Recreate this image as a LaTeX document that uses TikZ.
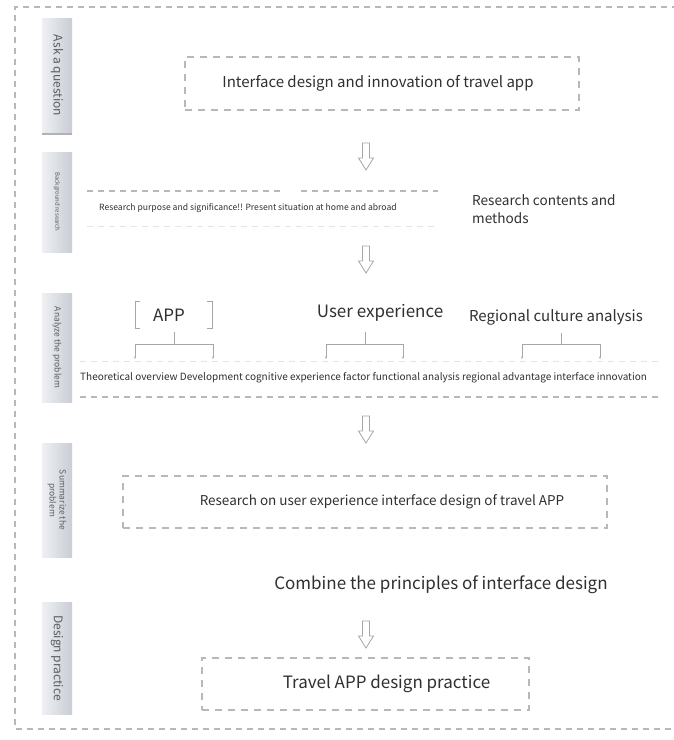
\documentclass[tikz,border=0pt]{standalone}
\usepackage{fontspec}
\setmainfont{Noto Sans CJK SC}
\usetikzlibrary{arrows.meta}
\definecolor{dashgray}{HTML}{B8B8B8}
\definecolor{faintgray}{HTML}{E4E4E4}
\definecolor{txt}{HTML}{303030}
\definecolor{bartxt}{HTML}{5A5C60}
\definecolor{barL}{HTML}{EEF0F3}
\definecolor{barR}{HTML}{C9CDD4}
\begin{document}
\begin{tikzpicture}[x=1pt,y=-1pt,
  frame/.style={draw=dashgray, line width=1.2pt, dash pattern=on 6pt off 5pt},
  dbox/.style={draw=dashgray, line width=1.6pt, dash pattern=on 7pt off 6pt, inner sep=0pt},
  bar/.style={left color=barL, right color=barR, draw=none, minimum width=30pt, inner sep=0pt},
  bartext/.style={rotate=-90, text=bartxt, align=center, inner sep=0pt},
  lbl/.style={text=txt, inner sep=0pt},
  tree/.style={draw=gray!70, line width=0.8pt},
  leaf/.style={-{Stealth[length=2.5pt,width=2pt]}},
  harrow/.pic={\draw[draw=gray!70, line width=0.8pt, fill=white]
      (-3.5,0) -- (3.5,0) -- (3.5,15) -- (7.5,15) -- (0,27) -- (-7.5,15) -- (-3.5,15) -- cycle;}
]
\useasboundingbox (0,0) rectangle (673,740);
\fill[white] (0,0) rectangle (673,740);

% outer frame (open on the right)
\draw[frame] (678,7) -- (15,7) -- (15,729) -- (678,729);

% side bars
\node[bar, minimum height=115pt] (b1) at (57,75.5) {};
\fill[gray!60] (b1.south west) rectangle ([yshift=-2pt]b1.south east);
\node[bartext, font=\fontsize{12}{14}\selectfont] at (b1.center) {Ask a question};
\node[bar, minimum height=100pt] (b2) at (57,202) {};
\node[bartext, font=\fontsize{6}{7}\selectfont] at (b2.center) {Background research};
\node[bar, minimum height=109pt] (b3) at (57,347.5) {};
\node[bartext, font=\fontsize{8.5}{10}\selectfont] at (b3.center) {Analyze the problem};
\node[bar, minimum height=114pt] (b4) at (57,500) {};
\node[bartext, font=\fontsize{8.5}{10}\selectfont] at (b4.center) {Summarize the\\problem};
\node[bar, minimum height=112pt] (b5) at (57,658) {};
\node[bartext, font=\fontsize{12}{14}\selectfont] at (b5.center) {Design practice};

% row 1
\node[dbox, minimum width=394pt, minimum height=53pt] (box1) at (382,83.5) {};
\node[lbl, font=\fontsize{15}{18}\selectfont] (t1) at ([xshift=-4pt]box1.center) {Interface design and innovation of travel app};
\pic at (366,143) {harrow};

% row 2
\draw[frame] (87,191) -- (281,191);
\draw[frame] (301,191) -- (438,191);
\draw[draw=faintgray, line width=1pt, dash pattern=on 6pt off 5pt] (87,226) -- (438,226);
\node[lbl, font=\fontsize{8.6}{10}\selectfont, anchor=west] (t2) at (99,208) {Research purpose and significance!! Present situation at home and abroad};
\node[lbl, font=\fontsize{13.6}{18.5}\selectfont, anchor=west, align=left] (t2b) at (472,209) {Research contents and\\methods};
\pic at (366,246) {harrow};

% row 3
\node[lbl, font=\fontsize{17}{20}\selectfont] (app) at (169,315) {APP};
\draw[tree, line width=1pt] (140,301) -- (135,301) -- (135,328) -- (140,328);
\draw[tree, line width=1pt] (207,301) -- (212,301) -- (212,328) -- (207,328);
\node[lbl, font=\fontsize{17}{20}\selectfont] (ue) at (380,313) {User experience};
\node[lbl, font=\fontsize{15}{18}\selectfont] (rca) at (556,317) {Regional culture analysis};

\coordinate (a0) at (174,332);
\coordinate (u0) at (365,332);
\coordinate (r0) at (561,333);
\foreach \c/\l/\r in {a0/135/213, u0/326/403, r0/522/600}{
  \draw[tree] (\c) -- ++(0,12) coordinate (\c m);
  \draw[tree] (\l,344) -- (\r,344);
  \draw[tree, leaf] (\l,344) -- (\l,359);
  \draw[tree, leaf] (\r,344) -- (\r,359);
}
\draw[draw=faintgray, line width=1pt, dash pattern=on 6pt off 5pt] (80,361) -- (660,361);
\node[lbl, font=\fontsize{10}{12}\selectfont, anchor=west] (t3) at (80,378) {Theoretical overview Development cognitive experience factor functional analysis regional advantage interface innovation};
\draw[frame] (80,397) -- (660,397);
\pic at (366,416) {harrow};

% row 4
\node[dbox, minimum width=484pt, minimum height=52pt] (box4) at (365,502) {};
\node[lbl, font=\fontsize{13.5}{16}\selectfont] (t4) at ([xshift=17pt]box4.center) {Research on user experience interface design of travel APP};
\node[lbl, font=\fontsize{17}{20}\selectfont] (t5) at (441,585) {Combine the principles of interface design};
\pic at (366,621) {harrow};

% row 5
\node[dbox, minimum width=327pt, minimum height=52pt] (box5) at (365.5,684) {};
\node[lbl, font=\fontsize{17}{20}\selectfont] (t6) at ([xshift=21pt]box5.center) {Travel APP design practice};
\end{tikzpicture}
\end{document}
